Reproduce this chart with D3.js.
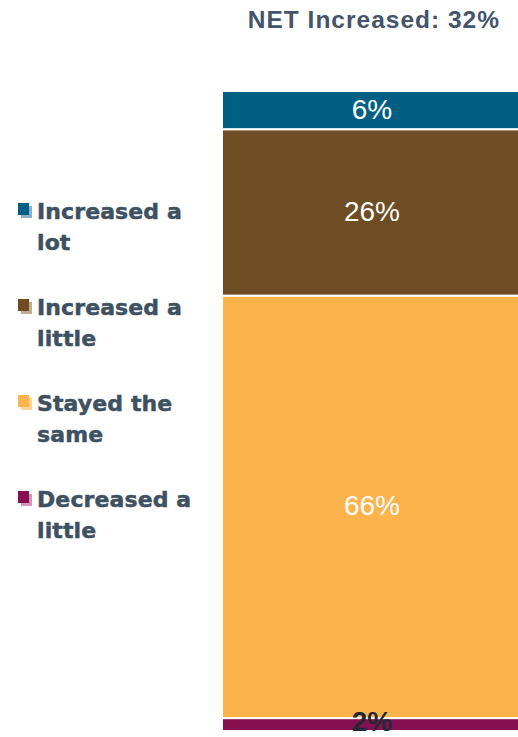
<!DOCTYPE html>
<html>
<head>
<meta charset="utf-8">
<script src="https://cdn.jsdelivr.net/npm/d3@7"></script>
<style>
  html, body { margin: 0; padding: 0; background: #ffffff; }
  svg { display: block; }
</style>
</head>
<body>
<div id="chart"></div>
<script>
// ---- data ----
const categories = ["All"];
const seriesNames = ["Increased a lot", "Increased a little", "Stayed the same", "Decreased a little"];
const seriesValues = [6, 26, 66, 2];
const legendLines = [["Increased a", "lot"], ["Increased a", "little"], ["Stayed the", "same"], ["Decreased a", "little"]];
const colors = ["#005F83", "#6E4C24", "#FDB34B", "#850F50"];
const shadowColors = ["#86b3c7", "#c1ab92", "#fed597", "#d497b8"];
const labelColors = ["#ffffff", "#ffffff", "#ffffff", "#1f2a36"];
const title = "NET Increased: 32%";

const W = 518, H = 737;
const svg = d3.select("#chart").append("svg").attr("width", W).attr("height", H);

// scales
const x = d3.scaleBand().domain(categories).range([222, 522]).padding(0);
const y = d3.scaleLinear().domain([0, 100]).range([91, 731]);

// stack (top to bottom)
const row = {};
seriesNames.forEach((s, i) => row[s] = seriesValues[i]);
const stack = d3.stack().keys(seriesNames)([row]);

const g = svg.append("g");
stack.forEach((layer, i) => {
  const d = layer[0];
  g.append("rect")
    .attr("x", x(categories[0]))
    .attr("width", x.bandwidth())
    .attr("y", y(d[0]))
    .attr("height", y(d[1]) - y(d[0]))
    .attr("fill", colors[i])
    .attr("stroke", "#ffffff")
    .attr("stroke-width", 2);
});
stack.forEach((layer, i) => {
  const d = layer[0];
  g.append("text")
    .attr("x", x(categories[0]) + x.bandwidth() / 2)
    .attr("y", (y(d[0]) + y(d[1])) / 2)
    .attr("dy", i === 3 ? "0.24em" : "0.3em")
    .attr("text-anchor", "middle")
    .attr("font-family", "Liberation Sans, Arial, sans-serif")
    .attr("font-size", 28)
    .attr("font-weight", i === 3 ? "bold" : "normal")
    .attr("fill", labelColors[i])
    .text(seriesValues[i] + "%");
});

// title
svg.append("text")
  .attr("x", 500).attr("y", 28)
  .attr("text-anchor", "end")
  .attr("font-family", "Liberation Sans, Arial, sans-serif")
  .attr("font-size", 24.5)
  .attr("font-weight", "bold")
  .attr("letter-spacing", 1)
  .attr("fill", "#44546A")
  .text(title);

// legend
const leg = svg.append("g");
legendLines.forEach((lines, i) => {
  const by = 219 + i * 96;
  leg.append("rect").attr("x", 21).attr("y", by - 13).attr("width", 11).attr("height", 12).attr("fill", shadowColors[i]);
  leg.append("rect").attr("x", 18).attr("y", by - 16).attr("width", 11).attr("height", 12).attr("fill", colors[i]);
  lines.forEach((t, j) => {
    leg.append("text")
      .attr("x", 37).attr("y", by + j * 31)
      .attr("font-family", "DejaVu Sans, sans-serif")
      .attr("font-size", 22)
      .attr("font-weight", "bold")
      .attr("letter-spacing", 0.1)
      .attr("fill", "#3E5161")
      .attr("stroke", "#3E5161")
      .attr("stroke-width", 0.5)
      .text(t);
  });
});
</script>
</body>
</html>
